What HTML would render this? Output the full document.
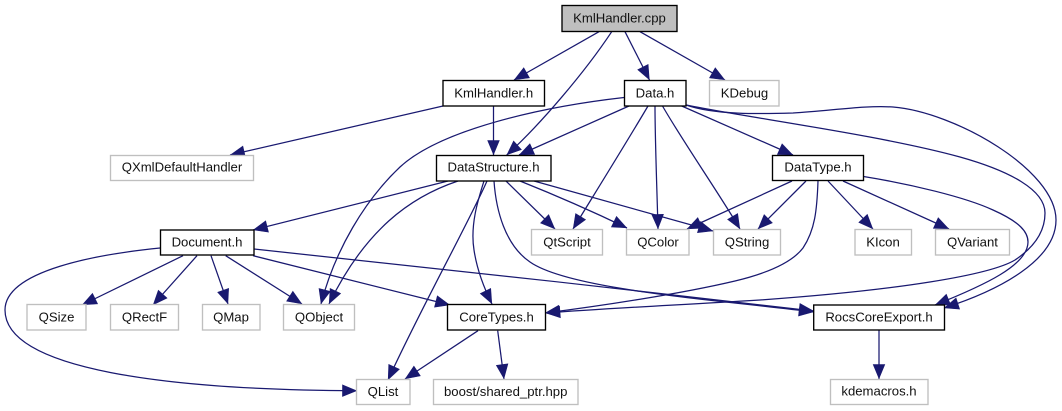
<!DOCTYPE html>
<html><head><meta charset="utf-8"><style>
html,body{margin:0;padding:0;background:#fff}
svg{display:block}
text{font-family:"Liberation Sans",sans-serif;font-size:13.15px;text-anchor:middle;fill:#111}
.e{fill:none;stroke:#191970;stroke-width:1.25;marker-end:url(#a)}
.b{fill:#fff;stroke:#000;stroke-width:1.35}
.g{fill:#fff;stroke:#bfbfbf;stroke-width:1.35}
</style></head><body>
<svg width="1062" height="411" viewBox="0 0 1062 411" xmlns="http://www.w3.org/2000/svg">
<defs><marker id="a" markerUnits="userSpaceOnUse" markerWidth="18" markerHeight="16" refX="15" refY="7" orient="auto" overflow="visible"><path d="M0.5,1.2 L14.5,7 L0.5,12.8 z" fill="#191970" stroke="#191970" stroke-width="0.6"/></marker></defs>
<rect width="1062" height="411" fill="#fff"/>
<g>
<path class="e" d="M599,31.7 L514,80"/>
<path class="e" d="M611.7,31.7 C585,72 540,125 506.7,155"/>
<path class="e" d="M625,31.7 L649.5,80"/>
<path class="e" d="M640,31.7 L725,80"/>
<path class="e" d="M493.5,106 L493.5,155"/>
<path class="e" d="M443,106 L230,155"/>
<path class="e" d="M629,106 L519,155"/>
<path class="e" d="M624,97.5 C540,107 440,130 400,167 C365,200 335,250 321,304"/>
<path class="e" d="M648,106 C628,140 600,185 573,229"/>
<path class="e" d="M655,106 C655,140 657,190 658,229"/>
<path class="e" d="M662.5,106 C682,140 720,195 740,229"/>
<path class="e" d="M681.7,106 L793,155"/>
<path class="e" d="M686,105 C715,115 760,114 793,113 C830,111 865,105 893,107 C955,112 1056,170 1056,220 C1056,260 1000,290 944,308"/>
<path class="e" d="M686,105 C750,118 880,135 960,157 C1010,171 1045,190 1045,213 C1045,235 1030,250 1015,260 C990,275 900,290 760,300 C680,305 610,308 545.5,313"/>
<path class="e" d="M448,181 L253,230"/>
<path class="e" d="M458,181 C410,197 365,230 329,304"/>
<path class="e" d="M487,181 C470,220 420,310 388,380"/>
<path class="e" d="M484,181 C478,200 470,225 474,250 C477,270 485,290 492,304"/>
<path class="e" d="M494,181 C496,210 505,245 530,262 C570,290 720,300 813.7,312"/>
<path class="e" d="M506,181 L555,229"/>
<path class="e" d="M520,181 C560,197 600,215 627,228"/>
<path class="e" d="M534,181 L713,231"/>
<path class="e" d="M792,181 L687,229"/>
<path class="e" d="M806,181 L758,229"/>
<path class="e" d="M818,181 C817,210 815,230 803,248 C790,265 760,275 735,281 C680,294 600,306 545,313"/>
<path class="e" d="M828,181 L873,229"/>
<path class="e" d="M843,181 L949,229"/>
<path class="e" d="M863.5,176.5 C910,184 965,197 993,210 C1020,222 1028,232 1028,242 C1028,265 985,285 935,305"/>
<path class="e" d="M183,255.7 L82,305"/>
<path class="e" d="M197,255.7 L153,305"/>
<path class="e" d="M211,255.7 L228,304"/>
<path class="e" d="M225.7,255.7 L302,304"/>
<path class="e" d="M253,255.7 L450,305"/>
<path class="e" d="M254,249 C400,264 650,292 813.7,311"/>
<path class="e" d="M160,248 C100,254 5,270 5,310 C5,370 170,390 357,390.7"/>
<path class="e" d="M478,330.7 L405,379"/>
<path class="e" d="M497.7,330.7 L504,379"/>
<path class="e" d="M879,330 L879,379"/>
</g>
<g>
<rect x="562" y="5.5" width="115" height="26" fill="#bfbfbf" stroke="#000" stroke-width="1.35"/><text x="619.5" y="22.4">KmlHandler.cpp</text>
<rect class="b" x="443" y="80.5" width="101.5" height="25.5"/><text x="493.7" y="97.3">KmlHandler.h</text>
<rect class="b" x="624.5" y="80.5" width="61.5" height="25.5"/><text x="655" y="97.3">Data.h</text>
<rect class="g" x="709.5" y="80.5" width="69.5" height="25.5"/><text x="744.5" y="97.3">KDebug</text>
<rect class="g" x="110.5" y="155.5" width="143" height="25"/><text x="182" y="171.4">QXmlDefaultHandler</text>
<rect class="b" x="436.5" y="155.5" width="114.5" height="25.5"/><text x="493.5" y="171.4">DataStructure.h</text>
<rect class="b" x="772.5" y="155.5" width="91" height="25"/><text x="818" y="171.4">DataType.h</text>
<rect class="b" x="160.5" y="230" width="93.5" height="25"/><text x="207" y="246.6">Document.h</text>
<rect class="g" x="531.5" y="229.5" width="71" height="25.5"/><text x="567" y="246.6">QtScript</text>
<rect class="g" x="626.5" y="229.5" width="62.5" height="25.5"/><text x="658" y="246.6">QColor</text>
<rect class="g" x="713.5" y="229.5" width="67" height="25.5"/><text x="747" y="246.6">QString</text>
<rect class="g" x="855" y="229.5" width="56.5" height="25.5"/><text x="883" y="246.4">KIcon</text>
<rect class="g" x="935.5" y="229.5" width="74" height="25.5"/><text x="972.5" y="246.4">QVariant</text>
<rect class="g" x="27" y="304.5" width="59" height="25.5"/><text x="56.5" y="321.5">QSize</text>
<rect class="g" x="110.5" y="304.5" width="68" height="25.5"/><text x="144.5" y="321.5">QRectF</text>
<rect class="g" x="202.5" y="304.5" width="57.5" height="25.5"/><text x="231" y="321.5">QMap</text>
<rect class="g" x="283.5" y="304.5" width="71" height="25.5"/><text x="319" y="321.5">QObject</text>
<rect class="b" x="447.5" y="304.5" width="98" height="25.5"/><text x="496.5" y="321.5">CoreTypes.h</text>
<rect class="b" x="813.7" y="305" width="130.8" height="25"/><text x="879" y="321.4">RocsCoreExport.h</text>
<rect class="g" x="356.5" y="379.5" width="53.5" height="25"/><text x="383" y="395.8">QList</text>
<rect class="g" x="433.5" y="379.5" width="144.5" height="25"/><text x="505.7" y="395.8">boost/shared_ptr.hpp</text>
<rect class="g" x="830.5" y="379.5" width="97.5" height="25"/><text x="879" y="395.6">kdemacros.h</text>
</g>
</svg>
</body></html>
